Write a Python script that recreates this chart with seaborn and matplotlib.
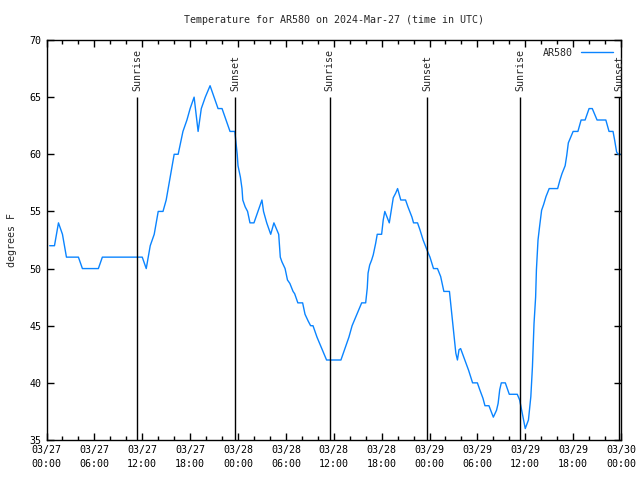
import pandas as pd
import matplotlib
matplotlib.use("Agg")
import matplotlib.pyplot as plt
import matplotlib.dates as mdates
import seaborn as sns

# hours after 2024-03-27 00:00 UTC and temperature (F)
hours = [0.4, 1.0, 1.5, 2.0, 2.5, 4.0, 4.5, 6.5, 7.0, 12.0, 12.5, 13.0, 13.5, 14.0, 14.6,
         15.0, 15.5, 16.0, 16.5, 16.8, 17.1, 17.6, 18.0, 18.5, 19.0, 19.4, 19.9, 20.5, 21.0,
         21.5, 22.0, 22.5, 23.0, 23.6, 23.9, 24.0, 24.3, 24.5, 24.6, 24.9, 25.2, 25.5, 26.0,
         26.5, 27.0, 27.2, 27.6, 28.1, 28.5, 28.8, 29.1, 29.3, 29.5, 29.9, 30.2, 30.5, 30.9,
         31.1, 31.5, 32.1, 32.4, 32.8, 33.1, 33.4, 33.9, 34.5, 35.1, 36.9, 37.4, 37.9, 38.3,
         38.9, 39.5, 40.0, 40.2, 40.3, 40.5, 40.75, 40.95, 41.25, 41.45, 42.0, 42.2, 42.4,
         42.96, 43.25, 43.46, 43.76, 44.0, 44.4, 45.0, 45.3, 45.8, 46.0, 46.5, 46.8, 47.2,
         47.7, 48.06, 48.5, 49.0, 49.4, 49.8, 50.5, 50.8, 51.0, 51.15, 51.3, 51.5, 51.7, 51.9,
         52.35, 52.9, 53.4, 54.0, 54.3, 54.7, 54.95, 55.45, 56.0, 56.4, 56.6, 56.8, 57.0, 57.5,
         58.0, 59.0, 59.3, 59.55, 59.75, 60.0, 60.4, 60.7, 60.9, 61.1, 61.3, 61.4, 61.6, 61.8,
         62.05, 62.3, 62.6, 63.0, 64.06, 64.35, 64.6, 65.0, 65.2, 65.4, 65.7, 66.0, 66.6, 67.0,
         67.5, 68.0, 68.4, 69.0, 70.1, 70.5, 71.0, 71.2, 71.45, 71.65, 71.9]
temps = [52, 52, 54, 53, 51, 51, 50, 50, 51, 51, 50, 52, 53, 55, 55,
         56, 58, 60, 60, 61, 62, 63, 64, 65, 62, 64, 65, 66, 65,
         64, 64, 63, 62, 62, 60, 59, 58, 57, 56, 55.4, 55, 54, 54,
         55, 56, 55, 54, 53, 54, 53.5, 53, 51, 50.6, 50, 49, 48.7, 48,
         47.8, 47, 47, 46, 45.4, 45, 45, 44, 43, 42, 42, 43, 44, 45,
         46, 47, 47, 48.3, 49.6, 50.3, 50.75, 51.2, 52.2, 53, 53, 54.25, 55,
         54, 55.3, 56.2, 56.6, 57, 56, 56, 55.4, 54.5, 54, 54, 53.4, 52.5,
         51.6, 51, 50, 50, 49.3, 48, 48, 46, 44.6, 43.75, 42.6, 42, 42.9, 43,
         42.15, 41.1, 40, 40, 39.4, 38.65, 38, 38, 37, 37.6, 38.2, 39.4, 40, 40,
         39, 39, 38.5, 37.6, 36.9, 36, 36.75, 38.8, 41.4, 45.2, 47.5, 49.9, 52.5, 53.7,
         55.1, 55.6, 56.3, 57, 57, 57.75, 58.3, 59, 59.9, 61, 61.5, 62, 62, 63,
         63, 64, 64, 63, 63, 62, 62, 61.25, 60.2, 60, 60]

sunrise_hours = [11.38, 35.49, 59.37]
sunset_hours = [23.66, 47.72, 71.74]

start = pd.Timestamp("2024-03-27 00:00")
df = pd.DataFrame({"time": start + pd.to_timedelta(hours, unit="h"), "temp": temps})

sns.set_style("ticks")
plt.rcParams["font.family"] = ["DejaVu Sans Mono", "DejaVu Sans"]
fs = 7.2

fig = plt.figure(figsize=(6.4, 4.8), dpi=100)
ax = fig.add_axes([46.5 / 640, 40 / 480, (621 - 46.5) / 640, 400 / 480])

sns.lineplot(data=df, x="time", y="temp", ax=ax, color="#0a84ff", linewidth=1, label="AR580")

# sunrise / sunset markers
for hs, name in [(sunrise_hours, "Sunrise"), (sunset_hours, "Sunset")]:
    for h in hs:
        t = start + pd.Timedelta(hours=h)
        ax.vlines(t, 35, 65, color="black", linewidth=1)
        ax.text(t, 65.5, name, rotation=90, ha="center", va="bottom", fontsize=fs, clip_on=False)

ax.set_xlim(start, start + pd.Timedelta(hours=72))
ax.set_ylim(35, 70)
ax.set_yticks(range(35, 71, 5))
ax.xaxis.set_major_locator(mdates.HourLocator(byhour=range(0, 24, 6)))
ax.xaxis.set_minor_locator(mdates.HourLocator(byhour=range(0, 24, 2)))
ax.xaxis.set_major_formatter(mdates.DateFormatter("%m/%d\n%H:%M"))
for lbl in ax.get_xticklabels():
    lbl.set_linespacing(1.55)

ax.tick_params(which="both", direction="in", top=True, right=True, labelsize=fs, colors="black")
ax.tick_params(which="major", length=5, width=1)
ax.tick_params(which="minor", length=3, width=1)
for s in ax.spines.values():
    s.set_color("black")
    s.set_linewidth(1)

ax.set_xlabel("")
ax.set_ylabel("degrees F", fontsize=fs, labelpad=9)
ax.set_title("Temperature for AR580 on 2024-Mar-27 (time in UTC)", fontsize=fs, pad=12)

ax.legend(loc="upper right", frameon=False, markerfirst=False, fontsize=fs,
          handlelength=3.2, borderaxespad=0.4, handletextpad=0.8)

fig.savefig("out.png", dpi=100)
